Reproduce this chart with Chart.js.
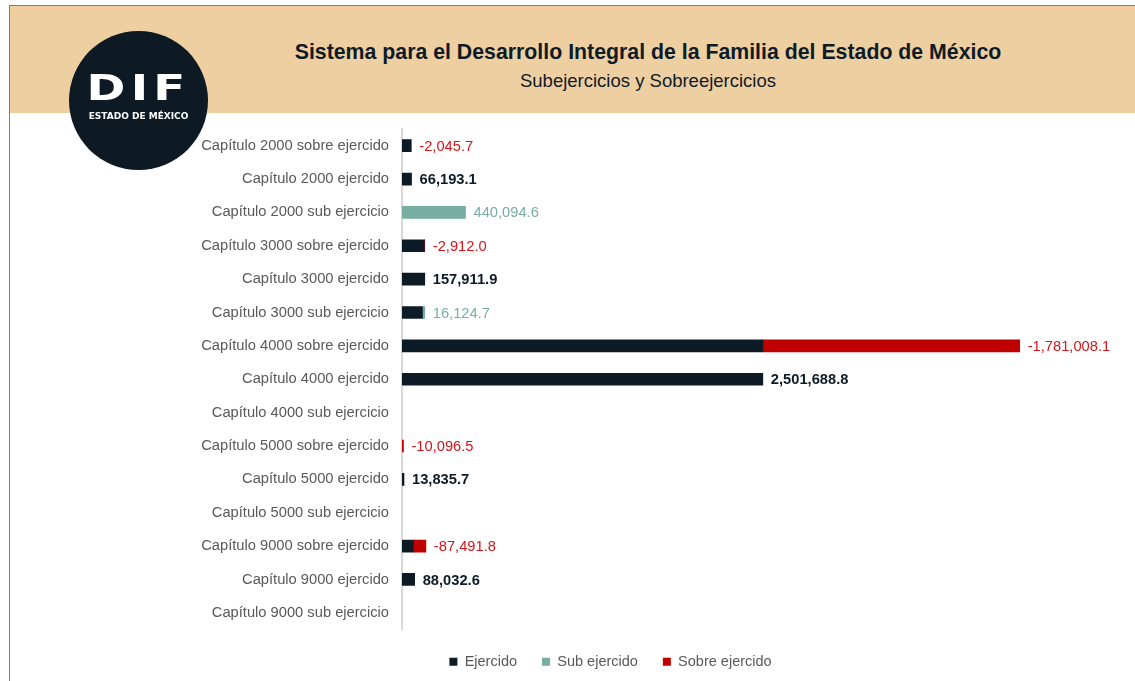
<!DOCTYPE html>
<html>
<head>
<meta charset="utf-8">
<script src="https://cdn.jsdelivr.net/npm/chart.js@4"></script>
<style>
  html, body { margin: 0; padding: 0; width: 1135px; height: 681px; overflow: hidden; background: #fff; font-family: "Liberation Sans", Arial, sans-serif; }
  .frame { position: absolute; left: 9px; top: 5px; right: 0; bottom: 0; border-left: 1px solid #76807f; border-top: 1px solid #76807f; }
  .header { position: absolute; left: 10px; top: 6px; width: 1125px; height: 107px; background: #eecfa2; }
  .title { position: absolute; left: 248px; width: 800px; top: 40px; text-align: center; font-weight: bold; font-size: 21.3px; color: #0e1b26; }
  .subtitle { position: absolute; left: 248px; width: 800px; top: 70px; text-align: center; font-size: 18.5px; color: #0e1b26; }
  .logo { position: absolute; left: 69px; top: 31px; width: 139px; height: 139px; border-radius: 50%; background: #0d1a24; z-index: 3; }
  .logo .dif { position: absolute; left: 0; width: 139px; top: 41px; text-align: center; color: #fff; font-family: "DejaVu Sans", sans-serif; font-weight: bold; font-size: 36px; letter-spacing: 4px; line-height: 32px; transform: scaleX(1.3); }
  .logo .edo { position: absolute; left: 0; width: 139px; top: 80px; text-align: center; color: #fff; font-family: "DejaVu Sans", sans-serif; font-weight: bold; font-size: 9px; }
  #wrap { position: absolute; left: 10px; top: 114px; width: 1125px; height: 567px; }
</style>
</head>
<body>
<div class="frame"></div>
<div class="header"></div>
<div class="title">Sistema para el Desarrollo Integral de la Familia del Estado de México</div>
<div class="subtitle">Subejercicios y Sobreejercicios</div>
<div class="logo"><div class="dif">DIF</div><div class="edo">ESTADO DE MÉXICO</div></div>
<div id="wrap"><canvas id="chart" width="1125" height="567"></canvas></div>
<script>
// Row names, top to bottom
const categories = [
  'Capítulo 2000 sobre ejercido', 'Capítulo 2000 ejercido', 'Capítulo 2000 sub ejercicio',
  'Capítulo 3000 sobre ejercido', 'Capítulo 3000 ejercido', 'Capítulo 3000 sub ejercicio',
  'Capítulo 4000 sobre ejercido', 'Capítulo 4000 ejercido', 'Capítulo 4000 sub ejercicio',
  'Capítulo 5000 sobre ejercido', 'Capítulo 5000 ejercido', 'Capítulo 5000 sub ejercicio',
  'Capítulo 9000 sobre ejercido', 'Capítulo 9000 ejercido', 'Capítulo 9000 sub ejercicio'
];

// Dark segment of each row
const ejercido = [
  62000, 66193.1, 0,
  155000, 157911.9, 141800,
  2501688.8, 2501688.8, 0,
  0, 13835.7, 0,
  78000, 88032.6, 0
];

// Teal segment
const subEjercido = [
  0, 0, 440094.6,
  0, 0, 16124.7,
  0, 0, 0,
  0, 0, 0,
  0, 0, 0
];

// Red segment (shown as negative numbers in the labels)
const sobreEjercido = [
  -2045.7, 0, 0,
  -2912.0, 0, 0,
  -1781008.1, 0, 0,
  -10096.5, 0, 0,
  -87491.8, 0, 0
];

const colors = {
  ejercido: '#0d1b26',
  sub: '#78ada1',
  sobre: '#c00000',
  sobreText: '#d0161b',
  axisText: '#595959'
};

const FONT = '"Liberation Sans", Arial, sans-serif';

function fmt(v) {
  return v.toLocaleString('en-US', { minimumFractionDigits: 1, maximumFractionDigits: 1 });
}

// Which value a row's label shows, and how
function rowLabel(i) {
  const name = categories[i];
  if (name.includes('sobre')) {
    return sobreEjercido[i] ? { text: fmt(sobreEjercido[i]), color: colors.sobreText, bold: false } : null;
  }
  if (name.includes('sub')) {
    return subEjercido[i] ? { text: fmt(subEjercido[i]), color: colors.sub, bold: false } : null;
  }
  return ejercido[i] ? { text: fmt(ejercido[i]), color: colors.ejercido, bold: true } : null;
}

// Draw the value labels just past the end of each stacked bar
const endLabels = {
  id: 'endLabels',
  afterDatasetsDraw(chart) {
    const ctx = chart.ctx;
    const xScale = chart.scales.x;
    const yScale = chart.scales.y;
    ctx.save();
    ctx.textBaseline = 'middle';
    ctx.textAlign = 'left';
    categories.forEach((c, i) => {
      const lbl = rowLabel(i);
      if (!lbl) return;
      const total = ejercido[i] + subEjercido[i] + Math.abs(sobreEjercido[i]);
      const x = xScale.getPixelForValue(total) + 8;
      const y = yScale.getPixelForValue(i) + 1;
      ctx.font = (lbl.bold ? 'bold ' : '') + '14.7px ' + FONT;
      ctx.fillStyle = lbl.color;
      ctx.fillText(lbl.text, x, y);
    });
    ctx.restore();
  }
};

// zeros are left out so no sliver gets drawn
const plotData = arr => arr.map(v => v ? Math.abs(v) : null);

new Chart(document.getElementById('chart'), {
  type: 'bar',
  data: {
    labels: categories,
    datasets: [
      { label: 'Ejercido', data: plotData(ejercido), backgroundColor: colors.ejercido, barThickness: 12 },
      { label: 'Sub ejercido', data: plotData(subEjercido), backgroundColor: colors.sub, barThickness: 12 },
      { label: 'Sobre ejercido', data: plotData(sobreEjercido), backgroundColor: colors.sobre, barThickness: 12 }
    ]
  },
  options: {
    indexAxis: 'y',
    responsive: false,
    animation: false,
    layout: { padding: { top: 15, right: 45, bottom: 2, left: 121 } },
    scales: {
      x: {
        stacked: true,
        display: false,
        min: 0,
        max: 4770000
      },
      y: {
        stacked: true,
        grid: { display: false, drawTicks: false },
        border: { display: true, color: '#d9d9d9', width: 2 },
        ticks: {
          padding: 13,
          color: colors.axisText,
          font: { family: FONT, size: 14.7 }
        },
        afterFit(scale) {
          scale.width = 271;
          scale.paddingTop = 0;
          scale.paddingBottom = 0;
        }
      }
    },
    plugins: {
      legend: {
        position: 'bottom',
        labels: {
          boxWidth: 8,
          boxHeight: 8,
          padding: 25,
          color: colors.axisText,
          font: { family: FONT, size: 14.5 }
        }
      },
      tooltip: { enabled: false }
    }
  },
  plugins: [endLabels]
});
</script>
</body>
</html>
